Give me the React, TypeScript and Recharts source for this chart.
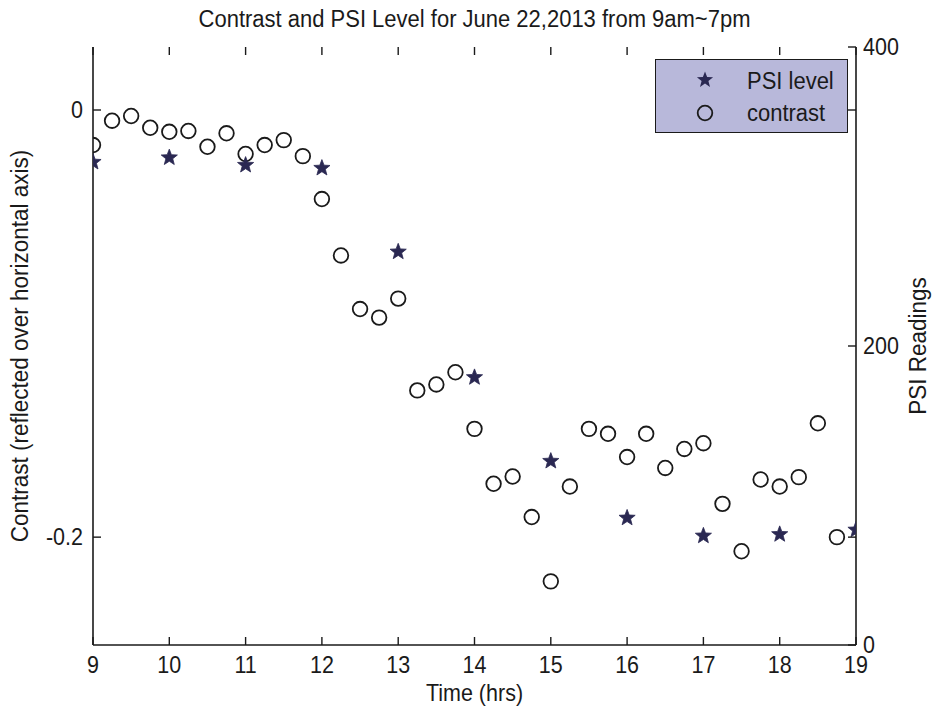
import { ScatterChart, Scatter, XAxis, YAxis } from 'recharts'

// contrast sampled every quarter hour, PSI once an hour
const CONTRAST_TIMES = [
  9, 9.25, 9.5, 9.75, 10, 10.25, 10.5, 10.75, 11, 11.25, 11.5, 11.75,
  12, 12.25, 12.5, 12.75, 13, 13.25, 13.5, 13.75, 14, 14.25, 14.5, 14.75,
  15, 15.25, 15.5, 15.75, 16, 16.25, 16.5, 16.75, 17, 17.25, 17.5, 17.75,
  18, 18.25, 18.5, 18.75,
]
const CONTRAST = [
  -0.0164, -0.005, -0.0028, -0.0083, -0.0102, -0.0098, -0.0172, -0.0109, -0.0206, -0.0164, -0.0141, -0.0216,
  -0.0417, -0.0681, -0.0932, -0.0972, -0.0883, -0.1313, -0.1285, -0.1228, -0.1493, -0.175, -0.1716, -0.1906,
  -0.2207, -0.1763, -0.1493, -0.1516, -0.1625, -0.1516, -0.1676, -0.1587, -0.156, -0.1844, -0.2066, -0.173,
  -0.1763, -0.1719, -0.1467, -0.2,
]
const PSI_HOURS = [9, 10, 11, 12, 13, 14, 15, 16, 17, 18, 19]
const PSI = [323, 326, 321, 319, 263, 179, 123, 85, 73, 74, 77]

const HOUR_TICKS = [9, 10, 11, 12, 13, 14, 15, 16, 17, 18, 19]
const CONTRAST_TICKS = [-0.2, 0]
const PSI_TICKS = [0, 200, 400]

const contrastData = CONTRAST_TIMES.map((t, i) => ({ t, v: CONTRAST[i] }))
const psiData = PSI_HOURS.map((t, i) => ({ t, v: PSI[i] }))

// frame layout
const W = 933
const H = 710
const LEFT_W = 93
const RIGHT_W = 77
const TOP = 47
const BOTTOM_H = 65
const PLOT_RIGHT = W - RIGHT_W
const TICK = 8

const FONT = '"Liberation Sans", Arial, Helvetica, sans-serif'
const INK = '#1a1a1a'
const STAR_FILL = '#2a2852'

function starPoints(cx: number, cy: number, R: number, r: number) {
  const pts: string[] = []
  for (let k = 0; k < 10; k++) {
    const rad = k % 2 === 0 ? R : r
    const a = -Math.PI / 2 + (k * Math.PI) / 5
    pts.push(`${cx + rad * Math.cos(a)},${cy + rad * Math.sin(a)}`)
  }
  return pts.join(' ')
}

const Star = ({ cx, cy }: any) => (
  <polygon points={starPoints(cx, cy, 8.5, 3.6)} fill={STAR_FILL} stroke={STAR_FILL} strokeWidth={0.8} />
)

const Ring = ({ cx, cy }: any) => (
  <circle cx={cx} cy={cy} r={7.3} fill="none" stroke={INK} strokeWidth={1.8} />
)

// glyphs are a little taller than plain Arial, like the old matlab export
const Txt = ({ x, y, anchor, size = 21.5, sy = 1.1, children }: any) => (
  <text
    transform={`translate(${x},${y}) scale(1,${sy})`}
    textAnchor={anchor}
    dominantBaseline="central"
    fontSize={size}
    fontFamily={FONT}
    fill={INK}
  >
    {children}
  </text>
)

// matlab-style ticks: drawn inward, mirrored on the opposite edge
const HourTick = ({ x, y, payload }: any) => (
  <g>
    <line x1={x} y1={y} x2={x} y2={y - TICK} stroke={INK} strokeWidth={1.4} />
    <line x1={x} y1={TOP} x2={x} y2={TOP + TICK} stroke={INK} strokeWidth={1.4} />
    <Txt x={x} y={y + 20} anchor="middle">{payload.value}</Txt>
  </g>
)

const ContrastTick = ({ x, y, payload }: any) => (
  <g>
    <line x1={x} y1={y} x2={x + TICK} y2={y} stroke={INK} strokeWidth={1.4} />
    <line x1={PLOT_RIGHT} y1={y} x2={PLOT_RIGHT - TICK} y2={y} stroke={INK} strokeWidth={1.4} />
    <Txt x={x - 10} y={y} anchor="end">{String(payload.value)}</Txt>
  </g>
)

const PsiTick = ({ x, y, payload }: any) => (
  <g>
    <line x1={x} y1={y} x2={x - TICK} y2={y} stroke={INK} strokeWidth={1.4} />
    <Txt x={x + 7} y={y} anchor="start">{payload.value}</Txt>
  </g>
)

const SideTitle = ({ viewBox, text, dx }: any) => {
  const cx = viewBox.x + dx
  const cy = viewBox.y + viewBox.height / 2
  return (
    <text
      transform={`translate(${cx},${cy}) rotate(-90) scale(1,1.05)`}
      textAnchor="middle"
      dominantBaseline="central"
      fontSize={22.5}
      fontFamily={FONT}
      fill={INK}
    >
      {text}
    </text>
  )
}

const BottomTitle = ({ viewBox, text }: any) => (
  <Txt x={viewBox.x + viewBox.width / 2} y={viewBox.y + 48} anchor="middle">{text}</Txt>
)

const LegendBox = () => (
  <div
    style={{
      position: 'absolute',
      left: 655,
      top: 59,
      width: 193,
      height: 74,
      boxSizing: 'border-box',
      border: `1.6px solid ${INK}`,
      background: '#b8b8da',
      zIndex: 2,
    }}
  >
    <svg width={190} height={71} style={{ position: 'absolute', left: 0, top: 0 }}>
      <polygon points={starPoints(49, 20, 8.5, 3.6)} fill={STAR_FILL} />
      <circle cx={49} cy={53} r={7.3} fill="none" stroke={INK} strokeWidth={1.8} />
      <Txt x={91} y={21} anchor="start" size={22}>PSI level</Txt>
      <Txt x={91} y={53} anchor="start" size={22}>contrast</Txt>
    </svg>
  </div>
)

export default function App() {
  return (
    <div style={{ position: 'relative', width: W, height: H, background: '#fff' }}>
      <style>{'body{margin:0}'}</style>
      <svg width={W} height={40} style={{ position: 'absolute', left: 0, top: 0, zIndex: 2 }}>
        <Txt x={(LEFT_W + PLOT_RIGHT) / 2} y={19} anchor="middle" size={22} sy={1.05}>
          Contrast and PSI Level for June 22,2013 from 9am~7pm
        </Txt>
      </svg>
      <LegendBox />
      <ScatterChart width={W} height={H} margin={{ top: TOP, right: 0, bottom: 0, left: 0 }}>
        <XAxis
          xAxisId="hrs"
          type="number"
          dataKey="t"
          domain={[9, 19]}
          ticks={HOUR_TICKS}
          interval={0}
          allowDataOverflow
          height={BOTTOM_H}
          tickSize={0}
          tickMargin={0}
          tickLine={false}
          axisLine={{ stroke: INK, strokeWidth: 1.6 }}
          tick={<HourTick />}
          label={<BottomTitle text="Time (hrs)" />}
        />
        <XAxis
          xAxisId="top"
          orientation="top"
          type="number"
          domain={[9, 19]}
          height={0}
          tick={false}
          tickLine={false}
          axisLine={{ stroke: INK, strokeWidth: 1.6 }}
        />
        <YAxis
          yAxisId="contrast"
          orientation="left"
          type="number"
          dataKey="v"
          width={LEFT_W}
          domain={[-0.2505, 0.0295]}
          ticks={CONTRAST_TICKS}
          interval={0}
          allowDataOverflow
          tickSize={0}
          tickMargin={0}
          tickLine={false}
          axisLine={{ stroke: INK, strokeWidth: 1.6 }}
          tick={<ContrastTick />}
          label={<SideTitle text="Contrast (reflected over horizontal axis)" dx={20} />}
        />
        <YAxis
          yAxisId="psi"
          orientation="right"
          type="number"
          dataKey="v"
          width={RIGHT_W}
          domain={[0, 400]}
          ticks={PSI_TICKS}
          interval={0}
          allowDataOverflow
          tickSize={0}
          tickMargin={0}
          tickLine={false}
          axisLine={{ stroke: INK, strokeWidth: 1.6 }}
          tick={<PsiTick />}
          label={<SideTitle text="PSI Readings" dx={62} />}
        />
        <Scatter
          name="contrast"
          data={contrastData}
          xAxisId="hrs"
          yAxisId="contrast"
          shape={Ring}
          isAnimationActive={false}
        />
        <Scatter
          name="PSI level"
          data={psiData}
          xAxisId="hrs"
          yAxisId="psi"
          shape={Star}
          isAnimationActive={false}
        />
      </ScatterChart>
    </div>
  )
}
